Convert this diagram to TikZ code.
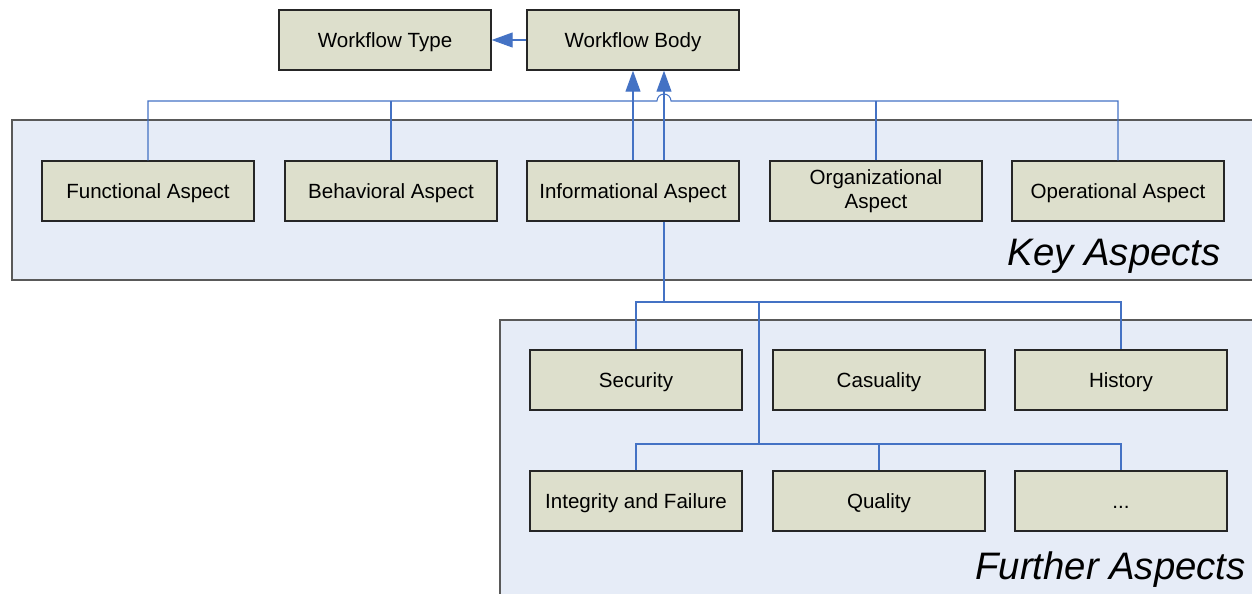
\documentclass[tikz,border=0pt]{standalone}
\usepackage{fontspec}
\setmainfont{Liberation Sans}
\usetikzlibrary{arrows.meta}
\definecolor{boxfill}{RGB}{221,223,204}
\definecolor{panelfill}{RGB}{230,236,247}
\definecolor{linkblue}{RGB}{68,114,196}
\tikzset{aspect/.style={
        draw=black!85, fill=boxfill, line width=0.8pt,
        minimum width=4.24cm, minimum height=1.2cm, inner sep=0,
        text height=8.4pt, text depth=0pt,
        align=center, font=\fontsize{11.7}{14}\selectfont
  }
}
\tikzset{panel/.style={draw=black!65, fill=panelfill, line width=0.8pt}}
\tikzset{groupname/.style={anchor=base east, inner sep=0, font=\fontsize{21.8}{26}\selectfont\itshape}}
\tikzset{link/.style={draw=linkblue, line width=0.6pt}}
\tikzset{uses/.style={link, -{Triangle[length=0.42cm, width=0.3cm]}}}

\begin{document}
\begin{tikzpicture}[x=0.02cm, y=-0.02cm]
\useasboundingbox (0,0) rectangle (1252,593);
% Panels
\draw[panel] (12,120) rectangle (1262,280);
\draw[panel] (500,320) rectangle (1262,603);
% Workflow
\node[aspect] (type) at (385,40) {Workflow Type};
\node[aspect] (body) at (633,40) {Workflow Body};
% Key aspects
\node[aspect] (func) at (148,191) {Functional Aspect};
\node[aspect] (behav) at (391,191) {Behavioral Aspect};
\node[aspect] (info) at (633,191) {Informational Aspect};
\node[aspect, text height=, text depth=] (orga) at (876,191) {Organizational\\Aspect};
\node[aspect] (oper) at (1118,191) {Operational Aspect};
\node[groupname] (keyname) at (1221,265) {Key Aspects};
% Further aspects
\node[aspect] (secu) at (636,380) {Security};
\node[aspect] (casu) at (879,380) {Casuality};
\node[aspect] (hist) at (1121,380) {History};
\node[aspect] (integ) at (636,501) {Integrity and Failure};
\node[aspect] (qual) at (879,501) {Quality};
\node[aspect] (more) at (1121,501) {...};
\node[groupname] (furthername) at (1246,579) {Further Aspects};
% Bus points
\coordinate (topbus) at (633,101);
\coordinate (hopover) at (664,101);
\coordinate (lowbus) at (664,302);
\coordinate (splitbus) at (759,302);
\coordinate (rowbus) at (759,444);
% Type
\draw[uses] (body.west) -- (type.east);
% Key aspects to body
\draw[uses] (info.north) -- (body.south);
\draw[link] (func.north) |- ([xshift=-0.14cm]hopover) arc[start angle=180, end angle=0, radius=0.14cm] -| (oper.north);
\draw[link] (behav.north) -- (behav.north |- topbus);
\draw[link] (orga.north) -- (orga.north |- topbus);
% Further aspects to body
\draw[uses] (info.north -| hopover) -- (body.south -| hopover);
\draw[link] (info.south -| lowbus) -- (lowbus);
\draw[link] (secu.north) |- (hist.north |- lowbus) -- (hist.north);
\draw[link] (splitbus) -- (rowbus);
\draw[link] (integ.north) |- (more.north |- rowbus) -- (more.north);
\draw[link] (qual.north) -- (qual.north |- rowbus);
\end{tikzpicture}
\end{document}
